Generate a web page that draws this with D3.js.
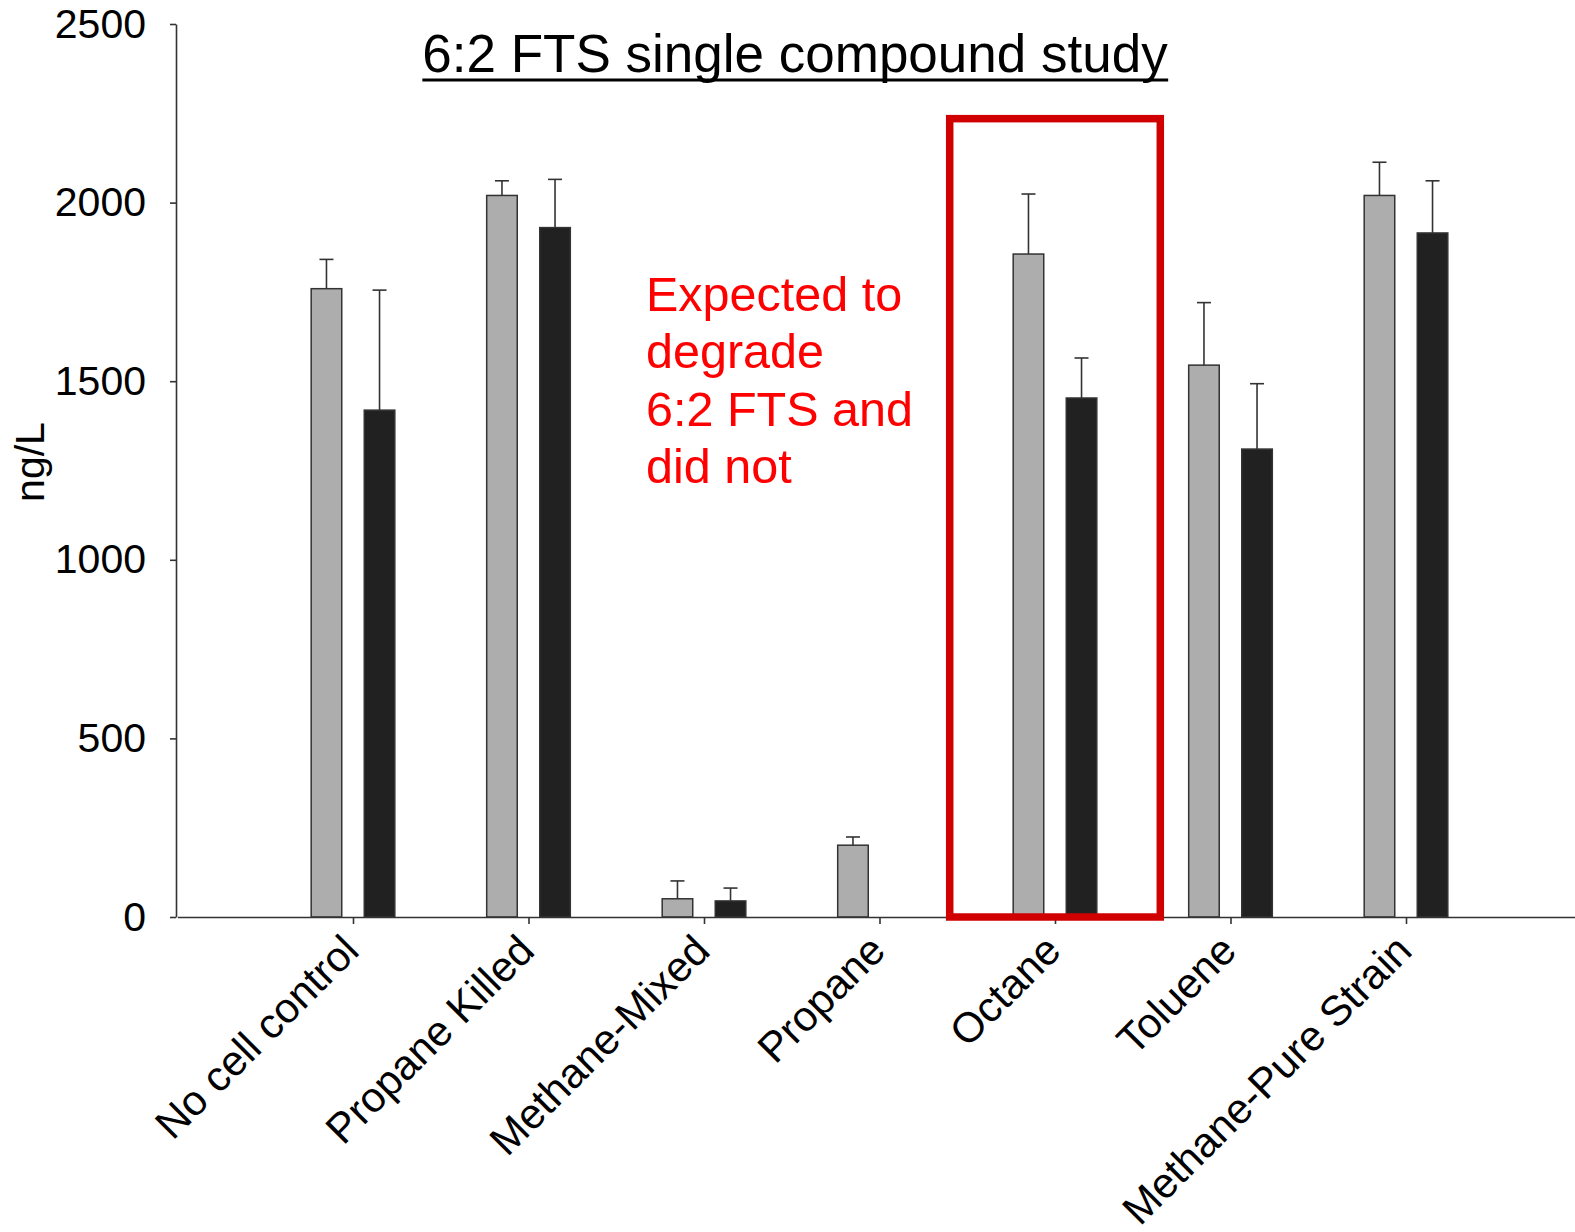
<!DOCTYPE html>
<html>
<head>
<meta charset="utf-8">
<script src="https://cdn.jsdelivr.net/npm/d3@7"></script>
<style>
  html, body { margin: 0; padding: 0; background: #fff; }
  svg text { font-family: "Liberation Sans", Arial, Helvetica, sans-serif; }
</style>
</head>
<body>
<svg id="chart" width="1575" height="1232"></svg>
<script>
// 6:2 FTS concentrations (ng/L) per culture condition, two sampling points
const categories = ["No cell control", "Propane Killed", "Methane-Mixed", "Propane", "Octane", "Toluene", "Methane-Pure Strain"];
const seriesNames = ["initial", "final"];
const initialValues = [1759, 2020, 51, 201, 1856, 1545, 2020];
const initialErrors = [82, 41, 50, 23, 168, 175, 93];
const finalValues = [1419, 1930, 45, null, 1453, 1310, 1915];
const finalErrors = [336, 135, 36, null, 112, 183, 146];
const yTicks = [0, 500, 1000, 1500, 2000, 2500];
const titleText = "6:2 FTS single compound study";
const yLabel = "ng/L";
const noteLines = ["Expected to", "degrade", "6:2 FTS and", "did not"];
const highlightCategory = "Octane";
const highlightTop = 2235;

const seriesFill = { initial: "#adadad", final: "#212121" };

const svg = d3.select("#chart");

const x = d3.scalePoint().domain(categories).range([177.5, 1581.5]).padding(1);
const y = d3.scaleLinear().domain([0, 2500]).range([917, 24]);
const sub = d3.scaleBand().domain(seriesNames)
  .range([-x.step() * 0.2425, x.step() * 0.2425]).paddingInner(0.396);

const rows = [];
categories.forEach((c, i) => {
  rows.push({ cat: c, s: "initial", v: initialValues[i], e: initialErrors[i] });
  rows.push({ cat: c, s: "final", v: finalValues[i], e: finalErrors[i] });
});
const present = rows.filter(d => d.v != null);

// Bars
const bw = sub.bandwidth();
svg.append("g").selectAll("rect").data(present).join("rect")
  .attr("x", d => x(d.cat) + sub(d.s) + 0.75)
  .attr("y", d => y(d.v))
  .attr("width", bw - 1.5)
  .attr("height", d => y(0) - y(d.v))
  .attr("fill", d => seriesFill[d.s])
  .attr("stroke", "#333")
  .attr("stroke-width", 1.5);

// Upper error bars
const capHalf = 7;
const eb = svg.append("g").attr("stroke", "#333").attr("stroke-width", 1.6);
present.forEach(d => {
  const cx = x(d.cat) + sub(d.s) + bw / 2;
  eb.append("line").attr("x1", cx).attr("x2", cx)
    .attr("y1", y(d.v)).attr("y2", y(d.v + d.e));
  eb.append("line").attr("x1", cx - capHalf).attr("x2", cx + capHalf)
    .attr("y1", y(d.v + d.e)).attr("y2", y(d.v + d.e));
});

// Y axis
const yAxis = d3.axisLeft(y).tickValues(yTicks).tickFormat(d3.format("d"))
  .tickSize(6).tickSizeOuter(0).tickPadding(24);
const gy = svg.append("g").attr("transform", "translate(176,0)").call(yAxis);
gy.select(".domain").attr("stroke", "#333").attr("stroke-width", 1.6);
gy.selectAll(".tick line").attr("stroke", "#333").attr("stroke-width", 1.6);
gy.selectAll(".tick text").attr("font-size", 41).attr("fill", "#000")
  .attr("font-family", "'Liberation Sans', Arial, sans-serif");

// X axis
const xAxis = d3.axisBottom(x).tickSize(7).tickSizeOuter(0).tickFormat("");
const gx = svg.append("g").attr("transform", `translate(0,${y(0)})`).call(xAxis);
gx.select(".domain").attr("stroke", "#333").attr("stroke-width", 1.6);
gx.selectAll(".tick line").attr("stroke", "#333").attr("stroke-width", 1.6);

// Rotated category labels
svg.append("g").selectAll("text").data(categories).join("text")
  .attr("transform", d => `translate(${x(d) + 8},${y(0) + 36}) rotate(-45)`)
  .attr("text-anchor", "end")
  .attr("font-size", 42)
  .attr("fill", "#000")
  .text(d => d);

// Y axis title
svg.append("text")
  .attr("transform", "translate(44,462) rotate(-90)")
  .attr("text-anchor", "middle")
  .attr("font-size", 41)
  .attr("fill", "#000")
  .text(yLabel);

// Chart title, underlined
const title = svg.append("text")
  .attr("x", 795).attr("y", 72)
  .attr("text-anchor", "middle")
  .attr("font-size", 53)
  .attr("fill", "#000")
  .text(titleText);
const tb = title.node().getBBox();
svg.append("line")
  .attr("x1", tb.x).attr("x2", tb.x + tb.width)
  .attr("y1", 80).attr("y2", 80)
  .attr("stroke", "#000").attr("stroke-width", 3);

// Highlight box around the octane pair
const boxHalf = x.step() * 0.6;
svg.append("rect")
  .attr("x", x(highlightCategory) - boxHalf)
  .attr("y", y(highlightTop))
  .attr("width", boxHalf * 2)
  .attr("height", y(0) - y(highlightTop))
  .attr("fill", "none")
  .attr("stroke", "#d10000")
  .attr("stroke-width", 7.5);

// Red note
svg.append("g").selectAll("text").data(noteLines).join("text")
  .attr("x", 646)
  .attr("y", (d, i) => 310.5 + i * 57.5)
  .attr("font-size", 48.5)
  .attr("fill", "#ff0000")
  .text(d => d);
</script>
</body>
</html>
